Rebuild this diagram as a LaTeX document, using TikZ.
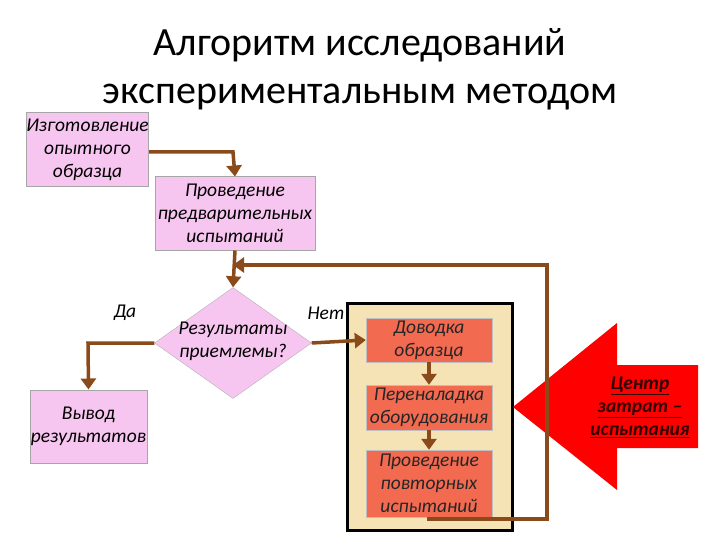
\documentclass[tikz,border=0pt]{standalone}
\usepackage{fontspec}
\setmainfont{Carlito}
\usetikzlibrary{arrows.meta,shapes.geometric}
\definecolor{brn}{HTML}{8B4A1A}
\definecolor{pnk}{HTML}{F7C6F0}
\definecolor{sal}{HTML}{F26A50}
\definecolor{tan}{HTML}{F5E3B5}
\tikzset{
 pbox/.style={draw=gray!70,line width=1pt,fill=pnk,minimum width=#1,inner sep=0pt,align=center,font=\itshape\fontsize{19.5}{23}\selectfont},
 rbox/.style={draw=gray!50,fill=sal,minimum width=126pt,inner sep=0pt,align=center,font=\itshape\fontsize{19.5}{23}\selectfont,text=black!85},
 con/.style={brn,line width=3.5pt,-{Triangle[length=11pt,width=15pt]}},
 lbl/.style={font=\itshape\fontsize{19.5}{23}\selectfont}
}
\begin{document}
\begin{tikzpicture}[x=1pt,y=-1pt]
\useasboundingbox (0,0) rectangle (720,540);
\node[font=\fontsize{40}{48}\selectfont,align=center] (t) at (360,69) {Алгоритм исследований\\экспериментальным методом};
\node[pbox=121pt,minimum height=74pt] (b1) at (87.5,150) {Изготовление\\опытного\\образца};
\node[pbox=160pt,minimum height=73pt] (b2) at (235,213.5) {Проведение\\предварительных\\испытаний};
\node[diamond,draw=gray!60,fill=pnk,minimum width=157pt,minimum height=111pt,inner sep=0pt] (d) at (233,343) {};
\node[lbl,align=center] at (233,341) {Результаты\\приемлемы?};
\node[pbox=117pt,minimum height=73pt] (b4) at (88.5,426.5) {Вывод\\результатов};
\node[lbl] (da) at (125,313) {Да};
\node[lbl] (net) at (326,313) {Нет};
\node[draw=black,line width=3pt,fill=tan,minimum width=165pt,minimum height=227pt] (panel) at (429.5,416.5) {};
\node[rbox,minimum height=44pt] (r1) at (429,340) {Доводка\\образца};
\node[rbox,minimum height=45pt] (r2) at (429,407.5) {Переналадка\\оборудования};
\node[rbox,minimum height=67pt] (r3) at (429,483.5) {Проведение\\повторных\\испытаний};
\fill[red] (513,407) -- (617,323) -- (617,365) -- (698,365) -- (698,448) -- (617,448) -- (617,490) -- cycle;
\node[align=center,font=\bfseries\itshape\fontsize{19.5}{23}\selectfont,text=black!80!red] (ct) at (640,407) {\underline{Центр}\\\underline{затрат –}\\\underline{испытания}};
\coordinate (j1) at (233,152);
\coordinate (j2) at (233,265);
\coordinate (j3) at (547,519);
\coordinate (j4) at (547,265);
\coordinate (j5) at (88,343);
\draw[con] (b1.east|-j1) -- (j1) -- (b2.north);
\draw[con] (b2.south) -- (d.north);
\draw[con] (r3.south) -- (r3.south|-j3) -- (j3) -- (j4) -- (j2);
\draw[con] (d.east) -- (r1.west);
\draw[con] (d.west) -- (j5) -- (b4.north);
\draw[con] (r1.south) -- (r2.north);
\draw[con] (r2.south) -- (r3.north);
\end{tikzpicture}
\end{document}
